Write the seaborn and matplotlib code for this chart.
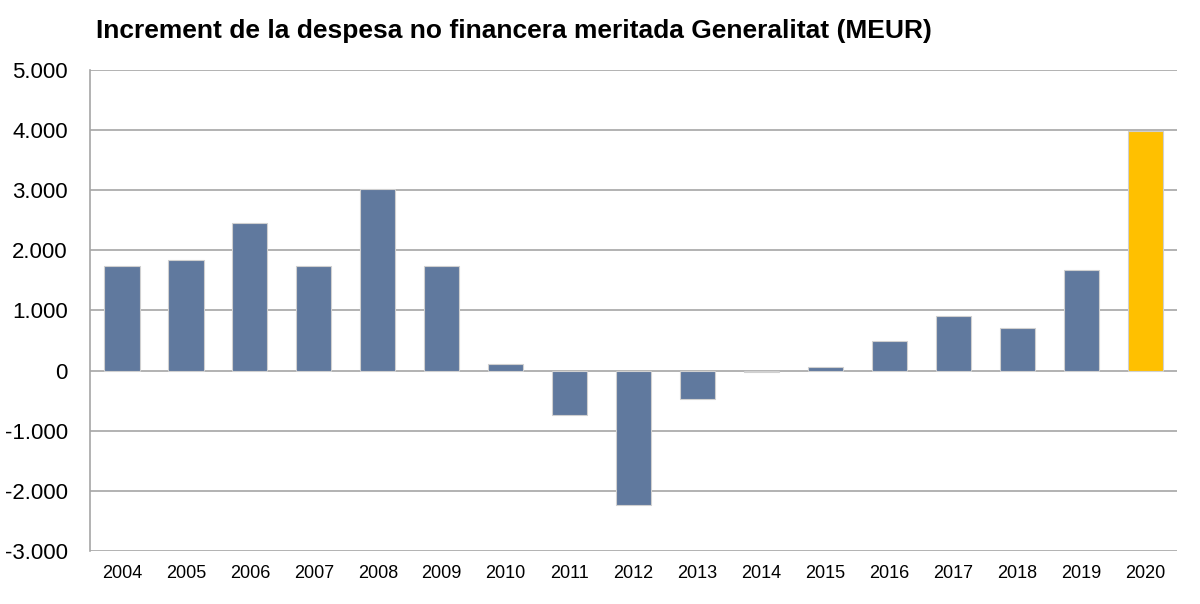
import matplotlib
matplotlib.use("Agg")
import matplotlib.pyplot as plt
import numpy as np
import pandas as pd
import seaborn as sns

years = [str(y) for y in range(2004, 2021)]
increment = [1735, 1838, 2450, 1733, 3028, 1733, 105, -738, -2233, -478,
             -22, 55, 488, 900, 717, 1667, 3988]
highlight = ["base"] * 16 + ["2020"]

yticks = list(range(-3000, 5001, 1000))
ytick_labels = ["{:,}".format(v).replace(",", ".") for v in yticks]

df = pd.DataFrame({"year": years, "value": increment, "group": highlight})

sns.set_style("white")
plt.rcParams["font.family"] = ["Liberation Sans", "DejaVu Sans"]
plt.rcParams["text.color"] = "black"
plt.rcParams["xtick.color"] = "black"
plt.rcParams["ytick.color"] = "black"

fig = plt.figure(figsize=(12, 6.04), dpi=100)
ax = fig.add_axes([0.075, 0.0877, 0.906, 0.7965])

sns.barplot(
    data=df, x="year", y="value", hue="group",
    palette={"base": "#60799E", "2020": "#FFC000"}, saturation=1,
    width=0.55, edgecolor="#D0D0D0", linewidth=0.8,
    legend=False, dodge=False, ax=ax,
)

ax.set_ylim(-3000, 5000)
ax.set_xlim(-0.5, len(years) - 0.5)
ax.set_yticks(yticks)
ax.set_yticklabels(ytick_labels, fontsize=16)
ax.tick_params(axis="x", labelsize=13, length=0, pad=10, colors="black")
ax.tick_params(axis="y", length=0, pad=16, colors="black")
ax.yaxis.grid(True, color="#A6A6A6", linewidth=1.2)
ax.set_axisbelow(True)
ax.set_xlabel("")
ax.set_ylabel("")
for side in ["top", "right", "bottom"]:
    ax.spines[side].set_visible(False)
ax.spines["left"].set_color("#A6A6A6")
ax.spines["left"].set_linewidth(1.2)

fig.text(0.08, 0.948, "Increment de la despesa no financera meritada Generalitat (MEUR)",
         fontsize=19, fontweight="bold", ha="left", va="center", color="black")

fig.savefig("out.png", dpi=100, facecolor="white")
